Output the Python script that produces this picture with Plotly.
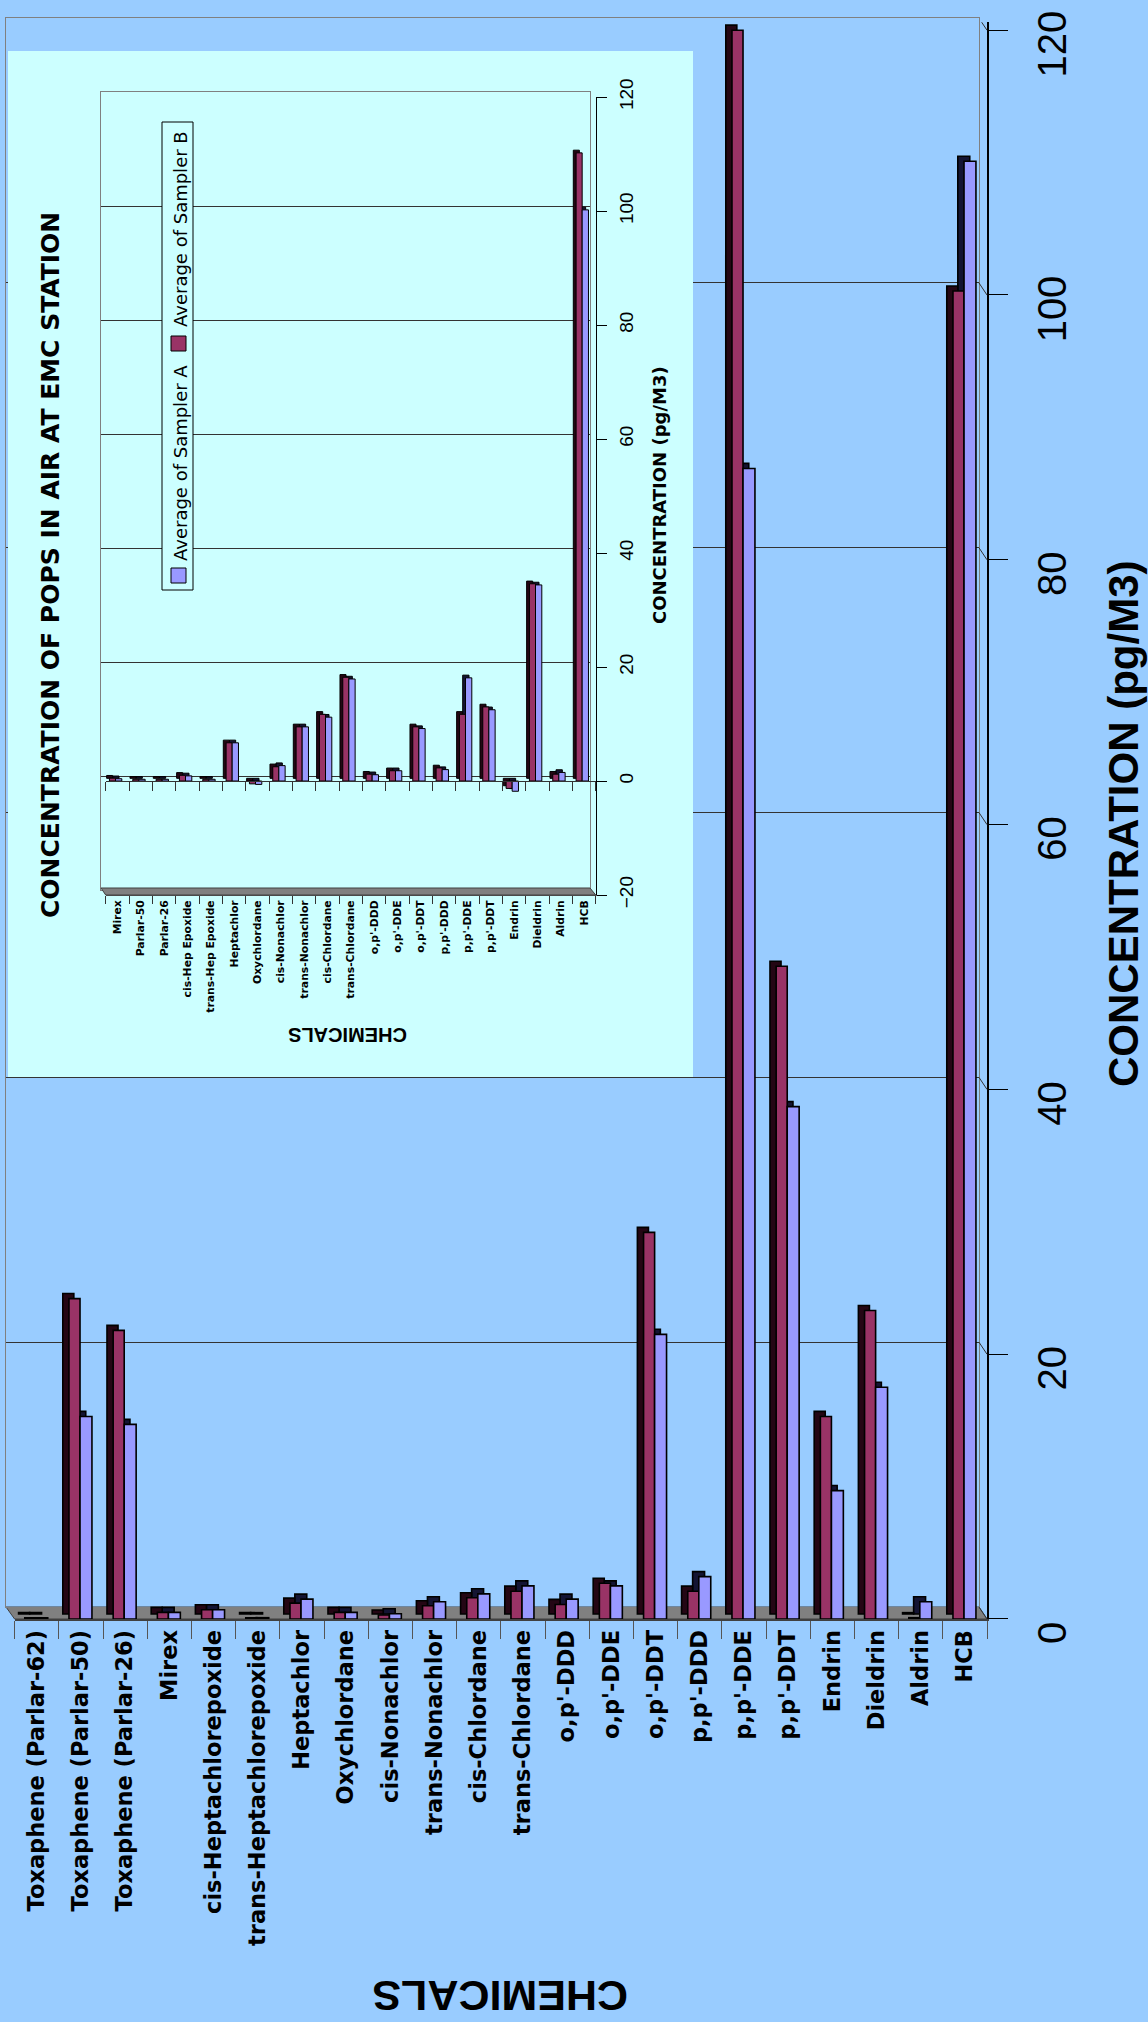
import plotly.graph_objects as go

W, H = 1148, 2022

# ---------------- data ----------------
main_categories = [
    "Toxaphene (Parlar-62)", "Toxaphene (Parlar-50)", "Toxaphene (Parlar-26)",
    "Mirex", "cis-Heptachlorepoxide", "trans-Heptachlorepoxide", "Heptachlor",
    "Oxychlordane", "cis-Nonachlor", "trans-Nonachlor", "cis-Chlordane",
    "trans-Chlordane", "o,p'-DDD", "o,p'-DDE", "o,p'-DDT", "p,p'-DDD",
    "p,p'-DDE", "p,p'-DDT", "Endrin", "Dieldrin", "Aldrin", "HCB",
]
main_sampler_b = [0.1, 24.2, 21.8, 0.5, 0.7, 0.1, 1.2, 0.5, 0.3, 1.0, 1.6, 2.1,
                  1.1, 2.7, 29.2, 2.1, 120.0, 49.3, 15.3, 23.3, 0.1, 100.3]
main_sampler_a = [0.1, 15.3, 14.7, 0.5, 0.7, 0.1, 1.5, 0.5, 0.4, 1.3, 1.9, 2.5,
                  1.5, 2.5, 21.5, 3.2, 86.9, 38.7, 9.7, 17.5, 1.3, 110.1]
main_value_ticks = [0, 20, 40, 60, 80, 100, 120]

inset_categories = [
    "Mirex", "Parlar-50", "Parlar-26", "cis-Hep Epoxide", "trans-Hep Epoxide",
    "Heptachlor", "Oxychlordane", "cis-Nonachlor", "trans-Nonachlor",
    "cis-Chlordane", "trans-Chlordane", "o,p'-DDD", "o,p'-DDE", "o,p'-DDT",
    "p,p'-DDD", "p,p'-DDE", "p,p'-DDT", "Endrin", "Dieldrin", "Aldrin", "HCB",
]
inset_sampler_b = [0.5, 0.3, 0.3, 1.0, 0.3, 6.7, -0.5, 2.5, 9.5, 11.7, 18.2,
                   1.2, 1.8, 9.5, 2.3, 11.7, 13.0, -1.3, 34.6, 1.2, 110.2]
inset_sampler_a = [0.4, 0.3, 0.3, 0.9, 0.3, 6.7, -0.6, 2.7, 9.5, 11.2, 17.9,
                   1.1, 1.8, 9.2, 2.0, 18.1, 12.5, -1.8, 34.4, 1.5, 100.2]
inset_value_ticks = [-20, 0, 20, 40, 60, 80, 100, 120]

series_names = ["Average of Sampler A", "Average of Sampler B"]

# ---------------- styles ----------------
BG = "#99CCFF"
PANEL = "#CCFFFF"
MAROON = "#993366"
PURPLE = "#9999FF"
MAROON_DARK = "#240614"
PURPLE_DARK = "#141433"
GRID = "#333333"
WALL = "#808080"


def px(x):
    return x / W


def py(y):
    return 1 - y / H


fig = go.Figure()


def empty(xa, ya):
    fig.add_trace(go.Scatter(x=[], y=[], xaxis=xa, yaxis=ya, showlegend=False,
                             hoverinfo="skip"))


def add_bars(cats, b_vals, a_vals, xa, ya, oB, wB, oA, wA, dx, dy, lw):
    # depth (3-D side / top faces)
    fig.add_trace(go.Bar(x=cats, y=a_vals, base=dy, offset=oA - dx, width=wA,
                         marker=dict(color=PURPLE_DARK, line=dict(color="black", width=lw)),
                         xaxis=xa, yaxis=ya, showlegend=False, hoverinfo="skip"))
    fig.add_trace(go.Bar(x=cats, y=b_vals, base=dy, offset=oB - dx, width=wB,
                         marker=dict(color=MAROON_DARK, line=dict(color="black", width=lw)),
                         xaxis=xa, yaxis=ya, showlegend=False, hoverinfo="skip"))
    # front faces
    fig.add_trace(go.Bar(x=cats, y=b_vals, offset=oB, width=wB, name=series_names[1],
                         marker=dict(color=MAROON, line=dict(color="black", width=lw)),
                         xaxis=xa, yaxis=ya, showlegend=False))
    fig.add_trace(go.Bar(x=cats, y=a_vals, offset=oA, width=wA, name=series_names[0],
                         marker=dict(color=PURPLE, line=dict(color="black", width=lw)),
                         xaxis=xa, yaxis=ya, showlegend=False))


# subplot 1: main back wall (gridlines)
empty("x", "y")
# subplot 2: main bars
add_bars(main_categories, main_sampler_b, main_sampler_a, "x2", "y2",
         -0.27, 0.25, -0.02, 0.27, 0.14, 0.38, 1.6)
# subplot 3: inset panel
fig.add_trace(go.Scatter(x=[0, 1, 1, 0, 0], y=[0, 0, 1, 1, 0], fill="toself",
                         fillcolor=PANEL, mode="lines", line=dict(width=0),
                         xaxis="x3", yaxis="y3", showlegend=False, hoverinfo="skip"))
# subplot 4: inset back wall
empty("x4", "y4")
# subplot 5: inset bars
add_bars(inset_categories, inset_sampler_b, inset_sampler_a, "x5", "y5",
         -0.34, 0.26, -0.08, 0.27, 0.12, 0.47, 1.0)
# inset zero-level category axis
empty("x6", "y5")

MAIN_PPU = 13.24
main_top = 120.6

hidden = dict(visible=False, showgrid=False, zeroline=False, fixedrange=True,
              automargin=False)

fig.update_layout(
    width=W, height=H,
    margin=dict(l=0, r=0, t=0, b=0, pad=0, autoexpand=False),
    paper_bgcolor=BG, plot_bgcolor="rgba(0,0,0,0)",
    barmode="overlay",
    showlegend=False,
    xaxis=dict(domain=[px(6), px(979)], range=[0, 1], anchor="y", automargin=False,
               showgrid=False, zeroline=False, showticklabels=False, ticks="",
               showline=True, mirror=True, linecolor=WALL, linewidth=1),
    yaxis=dict(domain=[py(1607), py(18)], range=[0, 120], anchor="x", automargin=False,
               tickvals=main_value_ticks, showgrid=True, gridcolor=GRID, gridwidth=1,
               zeroline=False, showticklabels=False, ticks="",
               showline=True, mirror=True, linecolor=WALL, linewidth=1),
    xaxis2=dict(domain=[px(14.6), px(987)], anchor="y2", type="category", automargin=False,
                categoryorder="array", categoryarray=main_categories,
                range=[-0.5, len(main_categories) - 0.5], tickson="boundaries",
                ticks="outside", ticklen=18, tickcolor="#555555", tickwidth=1,
                tickangle=-90,
                tickfont=dict(family="DejaVu Sans", size=22.5, color="black", weight="bold"),
                showline=True, linecolor="#404040", linewidth=2,
                showgrid=False, zeroline=False),
    yaxis2=dict(domain=[py(1619), py(1619 - main_top * MAIN_PPU)], range=[0, main_top],
                anchor="x2", side="right", tickvals=main_value_ticks, automargin=False,
                ticks="outside", ticklen=19, tickcolor="black", tickwidth=1,
                tickangle=-90, ticklabelstandoff=10, ticklabelshift=20,
                ticklabeloverflow="allow",
                tickfont=dict(family="Liberation Sans", size=40, color="black"),
                showline=True, linecolor="black", linewidth=1.5,
                showgrid=False, zeroline=False),
    xaxis3=dict(domain=[px(8), px(693)], range=[0, 1], anchor="y3", **hidden),
    yaxis3=dict(domain=[py(1077), py(51)], range=[0, 1], anchor="x3", **hidden),
    xaxis4=dict(domain=[px(101), px(590)], range=[0, 1], anchor="y4", automargin=False,
                showgrid=False, zeroline=False, showticklabels=False, ticks="",
                showline=True, mirror=True, linecolor=WALL, linewidth=1),
    yaxis4=dict(domain=[py(890), py(92)], range=[-20, 120], anchor="x4", automargin=False,
                tickvals=inset_value_ticks, showgrid=True, gridcolor=GRID, gridwidth=1,
                zeroline=False, showticklabels=False, ticks="",
                showline=True, mirror=True, linecolor=WALL, linewidth=1),
    xaxis5=dict(domain=[px(105.7), px(595.7)], anchor="y5", type="category", automargin=False,
                categoryorder="array", categoryarray=inset_categories,
                range=[-0.5, len(inset_categories) - 0.5], tickson="boundaries",
                ticks="outside", ticklen=8, tickcolor="#333333", tickwidth=1,
                tickangle=-90,
                tickfont=dict(family="DejaVu Sans", size=10.8, color="black", weight="bold"),
                showline=True, linecolor="#555555", linewidth=1,
                showgrid=False, zeroline=False),
    yaxis5=dict(domain=[py(895), py(97)], range=[-20, 120], anchor="x5", automargin=False,
                side="right", tickvals=inset_value_ticks,
                ticks="outside", ticklen=10, tickcolor="black", tickwidth=1,
                tickangle=-90, ticklabelstandoff=3,
                tickfont=dict(family="Liberation Sans", size=19, color="black"),
                showline=True, linecolor="black", linewidth=1,
                showgrid=False, zeroline=False),
    xaxis6=dict(overlaying="x5", anchor="free", position=py(781), type="linear",
                automargin=False,
                range=[-0.5, len(inset_categories) - 0.5],
                tickvals=[i - 0.5 for i in range(len(inset_categories) + 1)],
                ticks="outside", ticklen=9, tickcolor="#333333",
                showticklabels=False, showline=True, linecolor="#333333",
                showgrid=False, zeroline=False),
)

shapes = []
# main floor slab
shapes.append(dict(type="path", xref="paper", yref="paper", layer="below",
                   path=f"M {px(6)},{py(1607)} L {px(979)},{py(1607)} L {px(987)},{py(1619)} L {px(14.6)},{py(1619)} Z",
                   fillcolor="#808080", line=dict(color="#404040", width=1)))
# main wall-to-axis connectors
for v in main_value_ticks:
    shapes.append(dict(type="line", xref="paper", yref="y2", layer="above",
                       x0=px(979), x1=px(987), y0=v + 12 / MAIN_PPU, y1=v,
                       line=dict(color="#333333", width=1)))
# inset floor slab
shapes.append(dict(type="path", xref="paper", yref="paper", layer="above",
                   path=f"M {px(101)},{py(888)} L {px(590)},{py(888)} L {px(595.7)},{py(895)} L {px(105.7)},{py(895)} Z",
                   fillcolor="#808080", line=dict(color="#404040", width=1)))
# inset legend box
shapes.append(dict(type="rect", xref="paper", yref="paper", layer="above",
                   x0=px(162), x1=px(193), y0=py(590), y1=py(122),
                   fillcolor=PANEL, line=dict(color="black", width=1)))
shapes.append(dict(type="rect", xref="paper", yref="paper", layer="above",
                   x0=px(171), x1=px(186), y0=py(583), y1=py(568),
                   fillcolor=PURPLE, line=dict(color="black", width=1)))
shapes.append(dict(type="rect", xref="paper", yref="paper", layer="above",
                   x0=px(171), x1=px(186), y0=py(351), y1=py(336),
                   fillcolor=MAROON, line=dict(color="black", width=1)))
fig.update_layout(shapes=shapes)

annotations = [
    dict(text="CONCENTRATION OF POPS IN AIR AT EMC STATION", x=px(51), y=py(565),
         textangle=-90, font=dict(family="DejaVu Sans", size=25, color="black", weight="bold")),
    dict(text=series_names[0], x=px(180), y=py(463), textangle=-90,
         font=dict(family="DejaVu Sans", size=18, color="black")),
    dict(text=series_names[1], x=px(180), y=py(229), textangle=-90,
         font=dict(family="DejaVu Sans", size=18, color="black")),
    dict(text="CONCENTRATION (pg/M3)", x=px(660), y=py(495), textangle=-90,
         font=dict(family="DejaVu Sans", size=18, color="black", weight="bold")),
    dict(text="CHEMICALS", x=px(348), y=py(1035), textangle=180,
         font=dict(family="Liberation Sans", size=20, color="black", weight="bold")),
    dict(text="CONCENTRATION (pg/M3)", x=px(1124), y=py(824), textangle=-90,
         font=dict(family="Liberation Sans", size=42, color="black", weight="bold")),
    dict(text="CHEMICALS", x=px(500), y=py(1996), textangle=180,
         font=dict(family="Liberation Sans", size=43, color="black", weight="bold")),
]
for a in annotations:
    a.update(xref="paper", yref="paper", showarrow=False, xanchor="center", yanchor="middle")
fig.update_layout(annotations=annotations)

fig.write_html("out.html")
